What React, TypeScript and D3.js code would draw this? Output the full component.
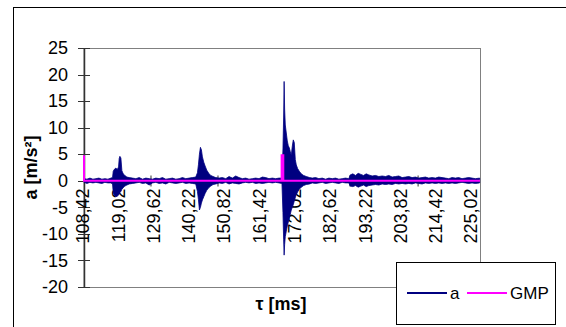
import React, { useEffect, useRef } from 'react';
import * as d3 from 'd3';

// y axis ticks (m/s²)
const yTicks = [-20, -15, -10, -5, 0, 5, 10, 15, 20, 25];
// category labels shown on the time axis (ms)
const xLabels = [108.42, 119.02, 129.62, 140.22, 150.82, 161.42, 172.02, 182.62, 193.22, 203.82, 214.42, 225.02];
// small tick marks drawn on the zero line (ms)
const xTickMarks = [128.55, 148.68, 168.82, 188.35, 208.8];

// signal "a": envelope (time ms, upper and lower value)
const aTime = [
  108.42, 109.3, 110.2, 111.1, 112.0, 112.9, 113.8, 114.7, 115.6, 116.5,
  117.0, 117.2, 117.6, 118.0, 118.4, 118.8, 119.0, 119.2, 119.5, 119.8, 120.2, 120.7, 121.3, 122.0,
  123, 124, 125, 126, 127, 128, 129, 130, 131, 132, 133, 134, 135, 136, 137, 138, 139, 140, 141, 142,
  142.5, 142.8, 143.1, 143.4, 143.7, 144.0, 144.4, 144.8, 145.3, 145.9, 146.5, 147.2, 148.0,
  149, 150, 151, 152, 153, 154, 155, 156, 157, 158, 159, 160, 161, 162, 163, 164, 165, 166, 167,
  167.9, 168.2, 168.4, 168.55, 168.7, 168.9, 169.2, 169.5, 169.8, 170.1, 170.4, 170.7, 171.0, 171.3, 171.6, 171.9, 172.2, 172.6, 173.1, 173.7, 174.4, 175.2, 176.2,
  177, 178, 179, 180, 181, 182, 183, 184, 185, 186, 187, 188,
  188.4, 189.2, 190.0, 190.8, 191.6, 192.4, 193.2, 194.0, 195, 196, 197, 198, 199, 200, 201, 202, 203, 204, 205, 206, 207, 208, 209, 210, 211, 212, 213, 214, 215, 216, 217, 218, 219, 220, 221, 222, 223, 224, 225, 226, 227.3,
];
const aMax = [
  0.4, 0.3, 0.5, 0.3, 0.4, 0.5, 0.3, 0.4, 0.3, 0.5,
  0.6, 1.8, 2.2, 2.4, 2.1, 2.6, 4.2, 4.6, 4.3, 1.9, 1.3, 1.0, 0.7, 0.6,
  0.5, 0.4, 0.6, 0.3, 0.5, 0.4, 0.3, 0.5, 0.4, 0.6, 0.3, 0.4, 0.5, 0.3, 0.4, 0.6, 0.4, 0.5, 0.6, 0.7,
  1.5, 3.0, 5.0, 6.3, 5.8, 4.5, 3.5, 2.8, 2.0, 1.4, 1.0, 0.8, 0.6,
  0.5, 0.6, 0.4, 0.8, 0.5, 0.9, 0.6, 0.4, 0.5, 0.3, 0.4, 0.5, 0.4, 0.7, 0.6, 0.4, 0.5, 0.4, 0.5,
  0.5, 6.0, 12.0, 18.7, 13.5, 10.5, 9.0, 7.5, 6.6, 6.2, 5.5, 4.8, 6.5, 7.7, 7.2, 4.0, 3.0, 2.3, 1.8, 1.3, 1.0, 0.8, 0.6,
  0.5, 0.6, 0.4, 0.5, 0.3, 0.5, 0.4, 0.5, 0.3, 0.4, 0.5, 0.4,
  1.1, 1.3, 1.0, 1.4, 1.2, 1.0, 1.3, 1.1, 0.9, 1.0, 0.8, 0.9, 0.8, 1.0, 0.7, 0.8, 0.9, 0.6, 0.7, 0.8, 0.6, 0.7, 0.5, 0.6, 0.7, 0.5, 0.6, 0.5, 0.7, 0.6, 0.5, 0.4, 0.6, 0.5, 0.6, 0.4, 0.5, 0.6, 0.5, 0.4, 0.5,
];
const aMin = [
  -0.3, -0.5, -0.3, -0.4, -0.3, -0.4, -0.5, -0.3, -0.4, -0.4,
  -0.6, -2.2, -2.8, -3.0, -2.9, -2.7, -2.5, -2.2, -2.0, -1.6, -1.3, -1.0, -0.8, -0.6,
  -0.5, -0.4, -0.3, -0.5, -0.4, -0.8, -0.4, -0.3, -0.5, -0.4, -0.6, -0.3, -0.4, -0.5, -0.4, -0.3, -0.5, -0.4, -0.5, -0.6,
  -2.0, -3.5, -5.5, -5.0, -4.2, -3.6, -3.0, -2.4, -1.8, -1.3, -1.0, -0.7, -0.6,
  -0.4, -0.5, -0.3, -0.6, -0.4, -0.5, -0.6, -0.4, -0.3, -0.4, -0.3, -0.5, -0.4, -0.5, -0.4, -0.3, -0.4, -0.3, -0.4,
  -0.5, -6.0, -11.0, -14.0, -12.0, -10.5, -9.5, -8.5, -7.8, -7.0, -6.3, -5.5, -5.0, -4.5, -3.8, -3.2, -2.6, -2.1, -1.6, -1.2, -0.9, -0.7, -0.6,
  -0.4, -0.5, -0.4, -0.3, -0.5, -0.4, -0.3, -0.4, -0.5, -0.3, -0.4, -0.4,
  -1.0, -1.1, -0.9, -1.2, -1.0, -0.8, -1.1, -0.9, -0.8, -0.7, -0.8, -0.6, -0.7, -0.6, -0.7, -0.5, -0.6, -0.5, -0.6, -0.5, -0.6, -0.4, -0.5, -0.6, -0.4, -0.5, -0.4, -0.5, -0.4, -0.5, -0.4, -0.5, -0.4, -0.5, -0.4, -0.3, -0.4, -0.5, -0.4, -0.5, -0.4,
];

// GMP pulse signal
const gmpTime = [108.42, 108.42, 167.8, 167.8, 168.3, 168.3, 227.4];
const gmpValue = [4.8, 0, 0, 4.8, 4.8, 0, 0];

const legendItems = [
  { name: 'a', color: '#000080' },
  { name: 'GMP', color: '#FF00FF' },
];

const FONT = '"Liberation Sans", Arial, sans-serif';

export default function App() {
  const ref = useRef<SVGSVGElement>(null);

  useEffect(() => {
    const svg = d3.select(ref.current);
    svg.selectAll('*').remove();

    const left = 84, right = 480, top = 48, bottom = 287;
    const x = d3.scaleLinear().domain([108.42, 227.4]).range([left, right]);
    const y = d3.scaleLinear().domain([-20, 25]).range([bottom, top]);

    // outer chart frame (runs off the right and bottom edge)
    svg.append('rect')
      .attr('x', 13.5).attr('y', 7.5).attr('width', 620).attr('height', 400)
      .attr('fill', '#fff').attr('stroke', '#000');

    // plot area
    svg.append('rect')
      .attr('x', left).attr('y', top + 0.5).attr('width', right - left + 0.5).attr('height', bottom - top)
      .attr('fill', '#fff').attr('stroke', '#808080');

    // y axis
    const yAxis = svg.append('g')
      .attr('transform', `translate(${left},0)`)
      .call(d3.axisLeft(y).tickValues(yTicks).tickSize(0).tickPadding(16).tickFormat((d) => String(d)));
    yAxis.select('.domain').attr('stroke', '#333').attr('stroke-width', 1.5);
    yAxis.selectAll('text').attr('font-family', FONT).attr('font-size', 18).attr('fill', '#000');
    svg.append('g').selectAll('line')
      .data(yTicks).enter().append('line')
      .attr('x1', left - 6).attr('x2', left + 6)
      .attr('y1', (d) => Math.round(y(d)) + 0.5).attr('y2', (d) => Math.round(y(d)) + 0.5)
      .attr('stroke', '#333');

    // category axis on the zero line
    const y0 = Math.round(y(0)) + 0.5;
    svg.append('line')
      .attr('x1', left).attr('x2', right).attr('y1', y0).attr('y2', y0)
      .attr('stroke', '#333');
    svg.append('g').selectAll('line')
      .data(xTickMarks).enter().append('line')
      .attr('x1', (d) => x(d)).attr('x2', (d) => x(d))
      .attr('y1', y0 - 6).attr('y2', y0 + 5)
      .attr('stroke', '#333');

    svg.append('g').selectAll('text')
      .data(xLabels).enter().append('text')
      .attr('transform', (d) => `translate(${x(d) - 1},${y0 + 7}) rotate(-90)`)
      .attr('text-anchor', 'end')
      .attr('dy', '0.35em')
      .attr('font-family', FONT).attr('font-size', 18)
      .text((d) => d.toFixed(2).replace('.', ','));

    // signal a as an envelope
    const idx = d3.range(Math.min(aTime.length, aMax.length, aMin.length));
    const area = d3.area<number>()
      .x((i) => x(aTime[i]))
      .y0((i) => y(aMin[i]))
      .y1((i) => y(aMax[i]));
    svg.append('path')
      .attr('d', area(idx))
      .attr('fill', '#000080')
      .attr('stroke', '#000080')
      .attr('stroke-width', 0.8);

    // GMP
    const line = d3.line<number>()
      .x((i) => x(gmpTime[i]))
      .y((i) => y(gmpValue[i]));
    svg.append('path')
      .attr('d', line(d3.range(gmpTime.length)))
      .attr('fill', 'none')
      .attr('stroke', '#FF00FF')
      .attr('stroke-width', 2);

    // axis titles
    svg.append('text')
      .attr('transform', `translate(31,${(top + bottom) / 2}) rotate(-90)`)
      .attr('text-anchor', 'middle').attr('dy', '0.35em')
      .attr('font-family', FONT).attr('font-size', 18).attr('font-weight', 'bold')
      .text('a [m/s²]');
    svg.append('text')
      .attr('x', 281).attr('y', 310)
      .attr('text-anchor', 'middle')
      .attr('font-family', FONT).attr('font-size', 18).attr('font-weight', 'bold')
      .text('τ [ms]');

    // legend
    const lg = svg.append('g');
    lg.append('rect')
      .attr('x', 396.5).attr('y', 262.5).attr('width', 159).attr('height', 62)
      .attr('fill', '#fff').attr('stroke', '#000');
    const itemX = [407, 467];
    legendItems.forEach((item, i) => {
      lg.append('line')
        .attr('x1', itemX[i]).attr('x2', itemX[i] + 40)
        .attr('y1', 293).attr('y2', 293)
        .attr('stroke', item.color).attr('stroke-width', 2);
      lg.append('text')
        .attr('x', itemX[i] + 43).attr('y', 293).attr('dy', '0.35em')
        .attr('font-family', FONT).attr('font-size', 17)
        .text(item.name);
    });
  }, []);

  return (
    <svg ref={ref} width={566} height={327} style={{ position: 'absolute', left: 0, top: 0 }} />
  );
}
